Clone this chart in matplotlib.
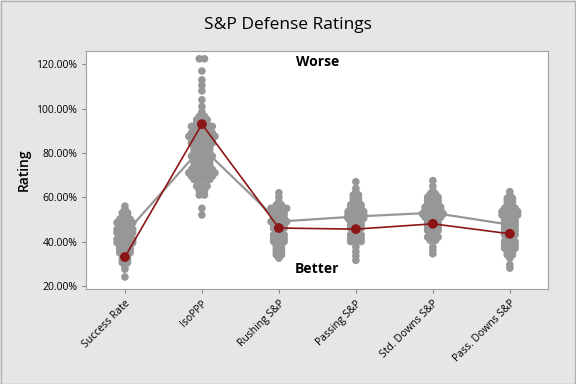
import numpy as np
import matplotlib
matplotlib.use("Agg")
import matplotlib.pyplot as plt
from matplotlib.ticker import FuncFormatter

# ========== data ==========
categories = ["Success Rate", "IsoPPP", "Rushing S&P", "Passing S&P",
              "Std. Downs S&P", "Pass. Downs S&P"]

# every team's rating, grouped by level (value, how many dots at that level)
succ_lv = [24.0, 27.5, 29.0, 30.5, 32.0, 33.5, 35.0, 36.5, 38.0, 39.5, 41.0,
           42.5, 44.0, 45.5, 47.0, 48.5, 50.0, 51.5, 53.0, 54.5, 56.0]
succ_n = [1, 1, 1, 2, 2, 2, 3, 3, 3, 4, 4, 3, 4, 4, 3, 4, 3, 2, 2, 1, 1]

iso_lv = [52.0, 55.0, 61.0, 63.0, 65.0, 68.0, 69.5, 71.0, 72.5, 74.0, 75.5,
          77.0, 78.5, 80.0, 81.5, 83.0, 84.5, 86.0, 87.5, 89.0, 90.5, 92.0,
          93.5, 95.0, 96.5, 98.5, 101.0, 104.0, 108.0, 110.5, 113.0, 117.0, 122.5]
iso_n = [1, 1, 2, 2, 3, 4, 5, 6, 5, 4, 4, 4, 5, 4, 4, 4, 5, 5, 6, 5, 4, 5,
         3, 3, 2, 1, 1, 1, 1, 1, 1, 1, 2]

rush_lv = [32.5, 34.0, 35.5, 37.0, 38.5, 40.0, 41.5, 43.0, 44.5, 46.0, 47.5,
           49.0, 50.5, 52.0, 53.5, 55.0, 56.5, 58.0, 60.0, 62.0]
rush_n = [1, 2, 2, 2, 2, 3, 3, 3, 2, 3, 3, 4, 3, 3, 3, 4, 2, 1, 1, 1]

pass_lv = [31.5, 33.5, 35.5, 37.5, 40.0, 41.5, 43.0, 44.5, 46.0, 47.5, 49.0,
           50.5, 52.0, 53.5, 55.0, 56.5, 58.0, 59.5, 61.0, 62.5, 64.0, 67.0]
pass_n = [1, 1, 1, 1, 3, 3, 3, 2, 3, 3, 3, 4, 4, 4, 3, 3, 2, 2, 2, 1, 1, 1]

std_lv = [34.5, 36.0, 37.5, 40.5, 42.0, 43.5, 45.0, 46.5, 48.0, 49.5, 51.0,
          52.5, 54.0, 55.5, 57.0, 58.5, 60.0, 61.5, 63.0, 65.0, 67.5]
std_n = [1, 1, 1, 2, 3, 2, 3, 3, 3, 3, 4, 5, 4, 4, 3, 3, 3, 2, 1, 1, 1]

pd_lv = [28.0, 29.5, 32.5, 34.0, 35.5, 37.0, 38.5, 40.0, 41.5, 43.0, 44.5,
         46.0, 47.5, 49.0, 50.5, 52.0, 53.5, 55.0, 56.5, 58.0, 59.5, 61.0, 62.5]
pd_n = [1, 1, 1, 2, 2, 3, 3, 3, 2, 3, 3, 3, 3, 3, 3, 4, 4, 3, 2, 2, 2, 1, 1]

# mean of all teams (gray line) and the highlighted team (red line)
mean_vals = [43.5, 82.5, 49.0, 51.3, 53.0, 47.6]
team_vals = [33.0, 93.0, 46.1, 45.6, 48.0, 43.5]
# =============================================

GRAY = "#979797"
RED = "#8c1515"
plt.rcParams["font.family"] = ["Open Sans", "DejaVu Sans"]

fig = plt.figure(figsize=(5.76, 3.84), dpi=100, facecolor="#e6e6e6")
ax = fig.add_axes([0.150, 0.247, 0.802, 0.620])
ax.set_facecolor("white")

groups = [(succ_lv, succ_n), (iso_lv, iso_n), (rush_lv, rush_n),
          (pass_lv, pass_n), (std_lv, std_n), (pd_lv, pd_n)]

# dots at the same level sit side by side, like an individual value plot
step = 0.068
for i, (lv, n) in enumerate(groups):
    xs, ys = [], []
    for v, c in zip(lv, n):
        off = (np.arange(c) - (c - 1) / 2) * step
        xs.extend(i + off)
        ys.extend([v] * c)
    ax.scatter(xs, ys, s=30, color=GRAY, edgecolors="none", zorder=2)

pos = np.arange(len(categories))
ax.plot(pos, mean_vals, color=GRAY, lw=1.6, zorder=3)
ax.plot(pos, team_vals, color=RED, lw=1.2, zorder=4)
ax.scatter(pos, team_vals, s=50, color=RED, edgecolors="none", zorder=5)

ax.text(2.5, 121, "Worse", ha="center", va="center", fontsize=10,
        fontweight="bold")
ax.text(2.5, 27.6, "Better", ha="center", va="center", fontsize=10,
        fontweight="bold")

ax.set_xlim(-0.5, 5.5)
ax.set_ylim(18.5, 126)
ax.set_yticks([20, 40, 60, 80, 100, 120])
ax.yaxis.set_major_formatter(FuncFormatter(lambda v, p: f"{v:.2f}%"))
ax.set_xticks(pos)
ax.set_xticklabels(categories, rotation=45, ha="right",
                   rotation_mode="anchor")
ax.tick_params(labelsize=7.5, color="#888888", length=3)

for sp in ax.spines.values():
    sp.set_color("#a0a0a0")

ax.set_ylabel("Rating", fontsize=10, fontweight="semibold", labelpad=4)
fig.suptitle("S&P Defense Ratings", x=0.5, y=0.955, fontsize=12.5)

# thin outer border of the figure
fig.patches.append(plt.Rectangle((0.001, 0.001), 0.997, 0.997,
                                 transform=fig.transFigure, fill=False,
                                 edgecolor="#b0b0b0", lw=1))

fig.savefig("out.png", dpi=100, facecolor=fig.get_facecolor())
